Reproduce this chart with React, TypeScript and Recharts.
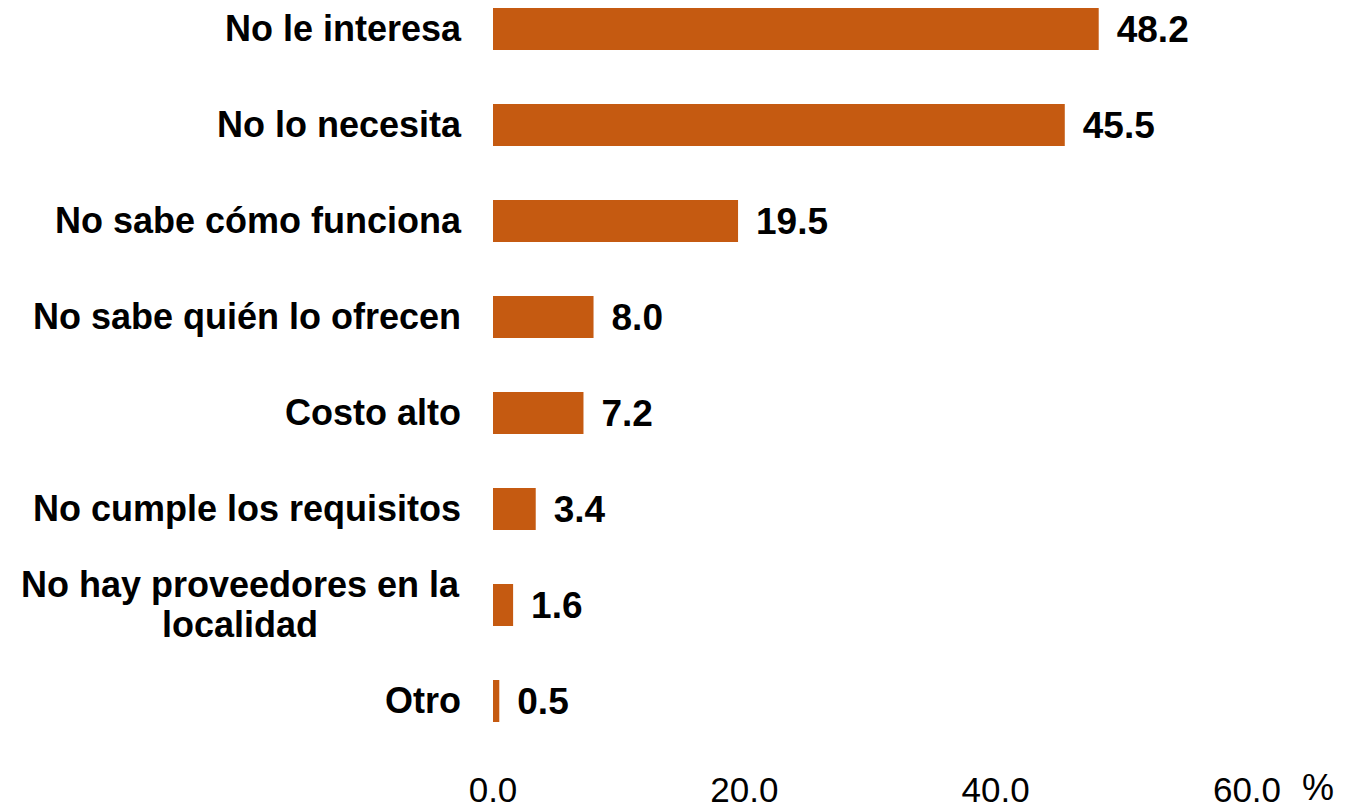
import React from 'react'
import { BarChart, Bar, XAxis, YAxis, LabelList } from 'recharts'

const categories = [
  'No le interesa',
  'No lo necesita',
  'No sabe cómo funciona',
  'No sabe quién lo ofrecen',
  'Costo alto',
  'No cumple los requisitos',
  'No hay proveedores en la\nlocalidad',
  'Otro',
]
const values = [48.2, 45.5, 19.5, 8.0, 7.2, 3.4, 1.6, 0.5]
const xTicks = [0, 20, 40, 60]

const data = categories.map((name, i) => ({ name, value: values[i] }))

const FONT = 'Arial, "Liberation Sans", Helvetica, sans-serif'

function CategoryTick(props: any) {
  const { x, y, payload } = props
  const lines: string[] = String(payload.value).split('\n')
  if (lines.length === 1) {
    return (
      <text x={x} y={y} dy={12} textAnchor="end" fontFamily={FONT} fontSize={36} fontWeight="bold" fill="#000">
        {lines[0]}
      </text>
    )
  }
  // wrapped label: centred block, right edge at the tick
  return (
    <text x={x - 221} y={y} textAnchor="middle" fontFamily={FONT} fontSize={36} fontWeight="bold" fill="#000">
      {lines.map((l, i) => (
        <tspan key={i} x={x - 221} dy={i === 0 ? -8 : 40}>{l}</tspan>
      ))}
    </text>
  )
}

function ValueTick(props: any) {
  const { x, y, payload } = props
  return (
    <text x={x} y={y} dy={51} textAnchor="middle" fontFamily={FONT} fontSize={35} fill="#000">
      {Number(payload.value).toFixed(1)}
    </text>
  )
}

function PercentLabel(props: any) {
  const { viewBox } = props
  return (
    <text x={viewBox.x + viewBox.width + 71} y={viewBox.y} dy={51} textAnchor="middle" fontFamily={FONT} fontSize={36} fill="#000">
      %
    </text>
  )
}

export default function App() {
  return (
    <div style={{ position: 'absolute', left: 0, top: -19, background: '#fff' }}>
      <BarChart
        width={1365}
        height={828}
        data={data}
        layout="vertical"
        barCategoryGap={54}
        margin={{ top: 0, right: 118, bottom: 0, left: 0 }}
      >
        <XAxis
          type="number"
          domain={[0, 60]}
          ticks={xTicks}
          axisLine={false}
          tickLine={false}
          tickSize={0}
          tick={<ValueTick />}
          height={60}
          interval={0}
          label={<PercentLabel />}
        />
        <YAxis
          type="category"
          dataKey="name"
          width={493}
          axisLine={false}
          tickLine={false}
          tickSize={0}
          tickMargin={32}
          tick={<CategoryTick />}
          interval={0}
        />
        <Bar dataKey="value" fill="#C55A11" barSize={42} isAnimationActive={false}>
          <LabelList
            dataKey="value"
            position="right"
            offset={18}
            formatter={(v: any) => Number(v).toFixed(1)}
            style={{ fontFamily: FONT, fontSize: 37, fontWeight: 'bold', fill: '#000' }}
          />
        </Bar>
      </BarChart>
    </div>
  )
}
